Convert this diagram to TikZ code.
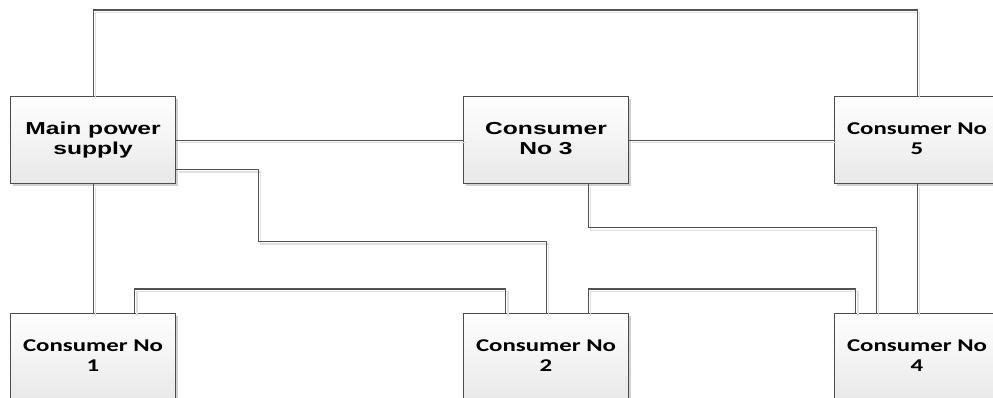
\documentclass[tikz,border=0pt]{standalone}
\usepackage{fontspec}
\setmainfont{Liberation Sans}
\newfontfamily\calib{Carlito}
\usetikzlibrary{calc,shadows}
\tikzset{
  box/.style={draw=black!70, line width=0.8pt, shading=axis, top color=white, bottom color=black!9,
    minimum width=165*0.75pt, minimum height=87*0.75pt, inner sep=0pt, anchor=north west,
    drop shadow={shadow xshift=2pt, shadow yshift=-2pt, fill=black!18, opacity=1}},
  wire/.style={draw=black!68, line width=0.8pt,
    preaction={draw=black!12, line width=1.1pt, transform canvas={xshift=2pt, yshift=-2pt}}}
}
\newcommand{\arialtxt}[2]{\scalebox{1.42}[1]{\fontsize{13}{15}\selectfont\bfseries\begin{tabular}{@{}c@{}}#1\\#2\end{tabular}}}
\newcommand{\calitxt}[2]{\scalebox{1.38}[1]{\calib\fontsize{13.5}{15}\selectfont\bfseries\begin{tabular}{@{}c@{}}#1\\#2\end{tabular}}}
\begin{document}
\begin{tikzpicture}[x=0.75pt,y=-0.75pt]
\useasboundingbox (0,0) rectangle (993,397);
\clip (0,0) rectangle (993,397);
\fill[white] (0,0) rectangle (993,397);
% nodes
\node[box] (main) at (10,96) {\arialtxt{Main power}{supply}};
\node[box] (c3) at (463,96) {\arialtxt{Consumer}{No 3}};
\node[box] (c5) at (834,96) {\calitxt{Consumer No}{5}};
\node[box] (c1) at (10,313) {\calitxt{Consumer No}{1}};
\node[box] (c2) at (463,313) {\calitxt{Consumer No}{2}};
\node[box] (c4) at (834,313) {\calitxt{Consumer No}{4}};
% connectors
\begin{scope}[on background layer/.style={}]
\draw[wire] (main.north) -- ++(0,-86) -| (c5.north);
\draw[wire] (main.east) -- (c3.west);
\draw[wire] (c3.east) -- (c5.west);
\draw[wire] ($(main.east)+(0,29.5)$) -- ++(82,0) -- ++(0,72) -| (c2.north);
\draw[wire] (main.south) -- (c1.north);
\draw[wire] ($(c1.north)+(41.5,0)$) -- ++(0,-24) -| ($(c2.north)+(-40.5,0)$);
\draw[wire] ($(c2.north)+(42,0)$) -- ++(0,-24) -| ($(c4.north)+(-61.5,0)$);
\draw[wire] ($(c3.south)+(42,0)$) -- ++(0,43.5) -| ($(c4.north)+(-41,0)$);
\draw[wire] (c5.south) -- (c4.north);
\end{scope}
\end{tikzpicture}
\end{document}
